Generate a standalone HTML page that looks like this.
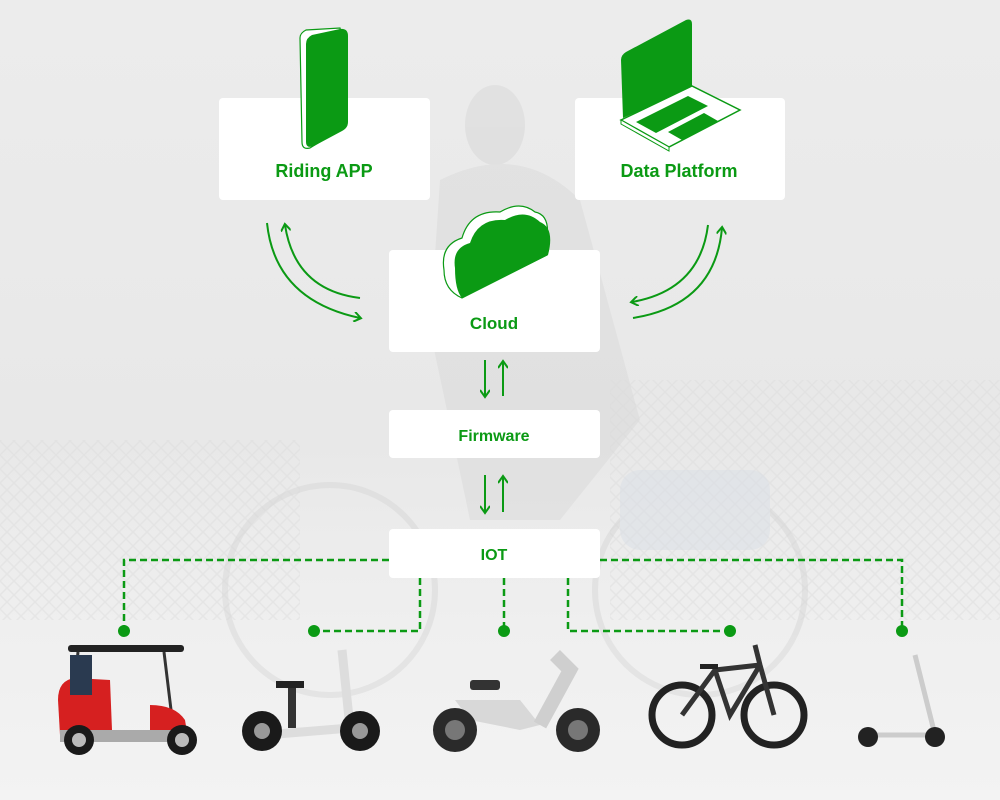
<!DOCTYPE html>
<html><head><meta charset="utf-8"><style>
html,body{margin:0;padding:0;width:1000px;height:800px;overflow:hidden;background:#ececec;}
svg{display:block}
text{font-family:"Liberation Sans",sans-serif;font-weight:bold;fill:#0b9a14;text-anchor:middle}
</style></head><body>
<svg width="1000" height="800" viewBox="0 0 1000 800" xmlns="http://www.w3.org/2000/svg">
<defs>
<linearGradient id="bg" x1="0" y1="0" x2="0" y2="1">
<stop offset="0" stop-color="#ececec"/><stop offset="0.55" stop-color="#e8e8e8"/><stop offset="0.78" stop-color="#efefef"/><stop offset="1" stop-color="#f3f3f3"/></linearGradient>
<pattern id="fence" width="14" height="14" patternUnits="userSpaceOnUse"><path d="M0 7 L7 0 L14 7 L7 14Z" fill="none" stroke="#dcdcdc" stroke-width="1.5"/></pattern>
<marker id="ah" markerWidth="10" markerHeight="10" refX="7" refY="5" orient="auto" markerUnits="userSpaceOnUse"><path d="M1 0 L8 5 L1 10" fill="none" stroke="#0b9a14" stroke-width="2"/></marker>
</defs>
<rect width="1000" height="800" fill="url(#bg)"/>
<rect x="0" y="440" width="300" height="180" fill="url(#fence)" opacity="0.5"/>
<rect x="610" y="380" width="390" height="240" fill="url(#fence)" opacity="0.5"/>
<g opacity="0.45">
<ellipse cx="495" cy="125" rx="30" ry="40" fill="#d4d4d4"/>
<path d="M440 180 Q520 140 580 200 L640 420 L560 520 L470 520 L430 330Z" fill="#d8d8d8"/>
<circle cx="330" cy="590" r="105" fill="none" stroke="#d4d4d4" stroke-width="6"/>
<circle cx="700" cy="590" r="105" fill="none" stroke="#d4d4d4" stroke-width="6"/>
<rect x="620" y="470" width="150" height="80" rx="20" fill="#d8dee6"/>
</g>

<g fill="#fff">
<rect x="219" y="98" width="211" height="102" rx="4"/>
<rect x="575" y="98" width="210" height="102" rx="4"/>
<rect x="389" y="250" width="211" height="102" rx="4"/>
<rect x="389" y="410" width="211" height="48" rx="4"/>
<rect x="389" y="529" width="211" height="49" rx="4"/>
</g>
<!-- phone icon -->
<path d="M300 38 Q300 33 306 30 L340 28 L342 36 L342 122 Q342 128 336 132 L310 148 Q302 150 302 142Z" fill="#fff" stroke="#0b9a14" stroke-width="1.2"/>
<path d="M306 44 Q306 38 312 35 L340 29 Q348 28 348 36 L348 122 Q348 128 342 131 L314 146 Q306 149 306 142Z" fill="#0b9a14"/>
<!-- laptop icon -->
<path d="M621 60 Q621 55 626 52 L686 20 Q692 18 692 24 L692 88 L623 118Z" fill="#0b9a14"/>
<path d="M621 120 L692 86 L740 110 L669 147 Z" fill="#fff" stroke="#0b9a14" stroke-width="1.5"/>
<path d="M621 120 L669 147 L669 151 L621 124Z" fill="#fff" stroke="#0b9a14" stroke-width="1"/>
<path d="M636 122 L688 96 L708 106 L656 133Z" fill="#0b9a14"/>
<path d="M668 132 L704 113 L718 121 L682 140Z" fill="#0b9a14"/>
<!-- cloud icon -->
<path d="M444 270 Q440 245 462 238 Q470 210 500 212 Q520 200 535 212 Q550 215 547 238 L547 255 L462 298 Q444 290 444 270Z" fill="#fff" stroke="#0b9a14" stroke-width="1.2"/>
<path d="M455 268 Q452 248 470 243 Q478 218 505 220 Q525 208 540 222 Q555 228 548 255 L462 298 Q455 290 455 268Z" fill="#0b9a14"/>

<text x="324" y="177" font-size="18">Riding APP</text>
<text x="679" y="177" font-size="18">Data Platform</text>
<text x="494" y="329" font-size="17">Cloud</text>
<text x="494" y="441" font-size="16">Firmware</text>
<text x="494" y="560" font-size="16">IOT</text>

<g fill="none" stroke="#0b9a14" stroke-width="2">
<path d="M267 223 Q275 300 360 318" marker-end="url(#ah)"/>
<path d="M360 298 Q295 290 285 225" marker-end="url(#ah)"/>
<path d="M708 225 Q700 290 632 302" marker-end="url(#ah)"/>
<path d="M633 318 Q715 305 722 228" marker-end="url(#ah)"/>
<path d="M485 360 L485 396" marker-end="url(#ah)"/>
<path d="M503 396 L503 362" marker-end="url(#ah)"/>
<path d="M485 475 L485 512" marker-end="url(#ah)"/>
<path d="M503 512 L503 477" marker-end="url(#ah)"/>
</g>
<g fill="none" stroke="#0b9a14" stroke-width="2.5" stroke-dasharray="7 4">
<path d="M389 560 L124 560 L124 630"/>
<path d="M600 560 L902 560 L902 630"/>
<path d="M420 578 L420 631 L314 631"/>
<path d="M504 578 L504 631"/>
<path d="M568 578 L568 631 L730 631"/>
</g>
<g fill="#0b9a14">
<circle cx="124" cy="631" r="6"/><circle cx="314" cy="631" r="6"/><circle cx="504" cy="631" r="6"/><circle cx="730" cy="631" r="6"/><circle cx="902" cy="631" r="6"/>
</g>

<!-- golf cart -->
<rect x="68" y="645" width="116" height="7" rx="3" fill="#222"/>
<path d="M78 652 L72 710 M164 652 L172 718" stroke="#333" stroke-width="3"/>
<path d="M58 700 Q58 680 75 678 L110 680 L112 730 L60 735Z" fill="#d62020"/>
<path d="M150 705 Q175 705 185 720 L188 738 L150 740Z" fill="#d62020"/>
<rect x="70" y="655" width="22" height="40" fill="#2a3a50"/>
<rect x="60" y="730" width="130" height="12" fill="#aaa"/>
<circle cx="79" cy="740" r="15" fill="#1a1a1a"/><circle cx="79" cy="740" r="7" fill="#bbb"/>
<circle cx="182" cy="740" r="15" fill="#1a1a1a"/><circle cx="182" cy="740" r="7" fill="#bbb"/>
<!-- kick scooter w seat -->
<rect x="276" y="681" width="28" height="7" fill="#222"/>
<rect x="288" y="688" width="8" height="40" fill="#333"/>
<path d="M265 735 L350 728 L342 650" stroke="#ddd" stroke-width="9" fill="none"/>
<circle cx="262" cy="731" r="20" fill="#1a1a1a"/><circle cx="262" cy="731" r="8" fill="#999"/>
<circle cx="360" cy="731" r="20" fill="#1a1a1a"/><circle cx="360" cy="731" r="8" fill="#999"/>
<!-- moped -->
<path d="M455 700 L520 700 L540 725 L520 730 L470 720Z" fill="#d8d8d8"/>
<rect x="470" y="680" width="30" height="10" rx="3" fill="#333"/>
<path d="M540 725 L570 670 L555 655" stroke="#cfcfcf" stroke-width="14" fill="none"/>
<circle cx="455" cy="730" r="22" fill="#2a2a2a"/><circle cx="455" cy="730" r="10" fill="#777"/>
<circle cx="578" cy="730" r="22" fill="#2a2a2a"/><circle cx="578" cy="730" r="10" fill="#777"/>
<!-- ebike -->
<circle cx="682" cy="715" r="30" fill="none" stroke="#222" stroke-width="7"/>
<circle cx="774" cy="715" r="30" fill="none" stroke="#222" stroke-width="7"/>
<path d="M682 715 L715 670 L760 665 L774 715 M715 670 L730 715 L760 665 M760 665 L755 645" stroke="#333" stroke-width="5" fill="none"/>
<rect x="700" y="664" width="18" height="5" fill="#222"/>
<!-- kick scooter -->
<path d="M915 655 L935 735 L872 735" stroke="#ccc" stroke-width="5" fill="none"/>
<circle cx="868" cy="737" r="10" fill="#222"/><circle cx="935" cy="737" r="10" fill="#222"/>
</svg>
</body></html>
